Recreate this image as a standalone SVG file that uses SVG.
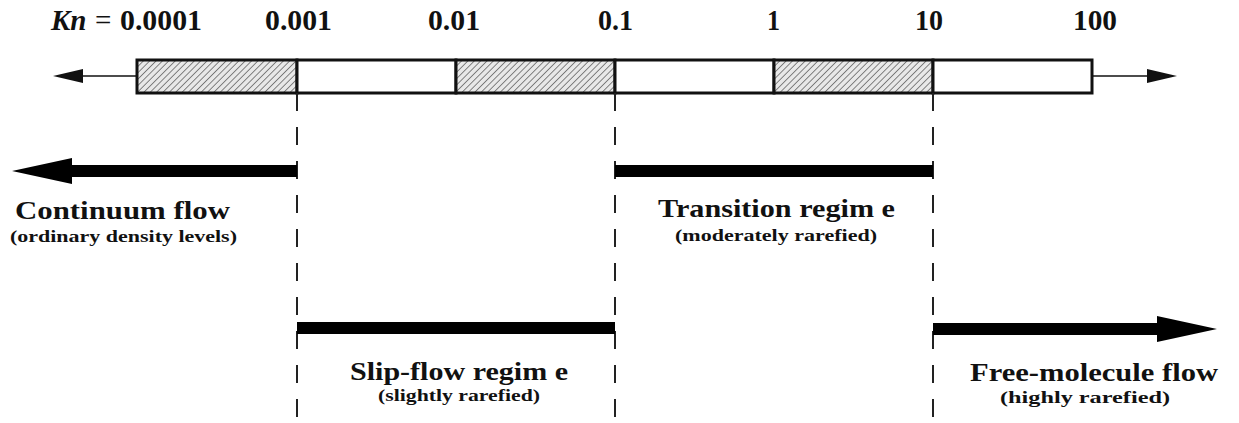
<svg xmlns="http://www.w3.org/2000/svg" width="1239" height="423" viewBox="0 0 1239 423">
<style>
.num{font-family:"Liberation Serif","Times New Roman",serif;font-weight:bold;font-size:29px;fill:#111}
.kn{font-family:"Liberation Serif","Times New Roman",serif;font-style:italic;font-weight:bold;font-size:29px;fill:#111}
.eq{font-family:"Liberation Serif","Times New Roman",serif;font-size:29px;fill:#111}
.title{font-family:"Liberation Serif","Times New Roman",serif;font-weight:bold;font-size:25px;fill:#111}
.sub{font-family:"Liberation Serif","Times New Roman",serif;font-weight:bold;font-size:16px;fill:#111}
.seg{fill:#fff;stroke:#111;stroke-width:3}
.hat{fill:url(#hatch);stroke:#111;stroke-width:3}
.dash{stroke:#222;stroke-width:2;stroke-dasharray:18 16;fill:none}
.thin{stroke:#111;stroke-width:1.5;fill:none}
.thick{stroke:#000;stroke-width:12;fill:none}
</style>
<defs>
<pattern id="hatch" patternUnits="userSpaceOnUse" width="4.5" height="4.5" patternTransform="rotate(45)">
<rect width="4.5" height="4.5" fill="#e8e8e8"/>
<line x1="0" y1="0" x2="0" y2="4.5" stroke="#555" stroke-width="1.4"/>
</pattern>
<marker id="thinhead" markerUnits="userSpaceOnUse" markerWidth="30" markerHeight="16" refX="0" refY="8" orient="auto">
<path d="M0,1 L30,8 L0,15 z" fill="#111"/>
</marker>
<marker id="thickhead" markerUnits="userSpaceOnUse" markerWidth="60" markerHeight="28" refX="0" refY="14" orient="auto">
<path d="M0,1 L60,14 L0,27 z" fill="#000"/>
</marker>
</defs>
<rect width="1239" height="423" fill="#fff"/>

<g id="scale-labels">
<text class="kn" x="51" y="30">Kn</text>
<text class="eq" x="95" y="30">=</text>
<text class="num" x="120" y="30" textLength="82" lengthAdjust="spacingAndGlyphs">0.0001</text>
<text class="num" x="265" y="30" textLength="67" lengthAdjust="spacingAndGlyphs">0.001</text>
<text class="num" x="428" y="30" textLength="52" lengthAdjust="spacingAndGlyphs">0.01</text>
<text class="num" x="598" y="30" textLength="35" lengthAdjust="spacingAndGlyphs">0.1</text>
<text class="num" x="767" y="30" textLength="13" lengthAdjust="spacingAndGlyphs">1</text>
<text class="num" x="915" y="30" textLength="28" lengthAdjust="spacingAndGlyphs">10</text>
<text class="num" x="1073" y="30" textLength="44" lengthAdjust="spacingAndGlyphs">100</text>
</g>

<g id="scale-bar">
<rect class="hat" x="137" y="60" width="160" height="33"/>
<rect class="seg" x="297" y="60" width="159" height="33"/>
<rect class="hat" x="456" y="60" width="159" height="33"/>
<rect class="seg" x="615" y="60" width="159" height="33"/>
<rect class="hat" x="774" y="60" width="159" height="33"/>
<rect class="seg" x="933" y="60" width="159" height="33"/>
</g>

<g id="connectors">
<line class="thin" x1="137" y1="76" x2="83" y2="76" marker-end="url(#thinhead)"/>
<line class="thin" x1="1092" y1="76" x2="1147" y2="76" marker-end="url(#thinhead)"/>
<line class="dash" x1="297" y1="93" x2="297" y2="418"/>
<line class="dash" x1="615" y1="93" x2="615" y2="418"/>
<line class="dash" x1="933" y1="93" x2="933" y2="418"/>
<line class="thick" x1="297" y1="171" x2="72" y2="171" marker-end="url(#thickhead)"/>
<line class="thick" x1="615" y1="171" x2="933" y2="171"/>
<line class="thick" x1="297" y1="328" x2="615" y2="328"/>
<line class="thick" x1="933" y1="329" x2="1157" y2="329" marker-end="url(#thickhead)"/>
</g>

<g id="continuum">
<text class="title" x="15" y="219" textLength="215" lengthAdjust="spacingAndGlyphs">Continuum flow</text>
<text class="sub" x="10" y="242" textLength="227" lengthAdjust="spacingAndGlyphs">(ordinary density levels)</text>
</g>

<g id="transition">
<text class="title" x="658" y="217" textLength="237" lengthAdjust="spacingAndGlyphs">Transition regim e</text>
<text class="sub" x="675" y="241" textLength="202" lengthAdjust="spacingAndGlyphs">(moderately rarefied)</text>
</g>

<g id="slip-flow">
<text class="title" x="350" y="380" textLength="218" lengthAdjust="spacingAndGlyphs">Slip-flow regim e</text>
<text class="sub" x="378" y="401" textLength="162" lengthAdjust="spacingAndGlyphs">(slightly rarefied)</text>
</g>

<g id="free-molecule">
<text class="title" x="970" y="381" textLength="248" lengthAdjust="spacingAndGlyphs">Free-molecule flow</text>
<text class="sub" x="1000" y="403" textLength="170" lengthAdjust="spacingAndGlyphs">(highly rarefied)</text>
</g>
</svg>
